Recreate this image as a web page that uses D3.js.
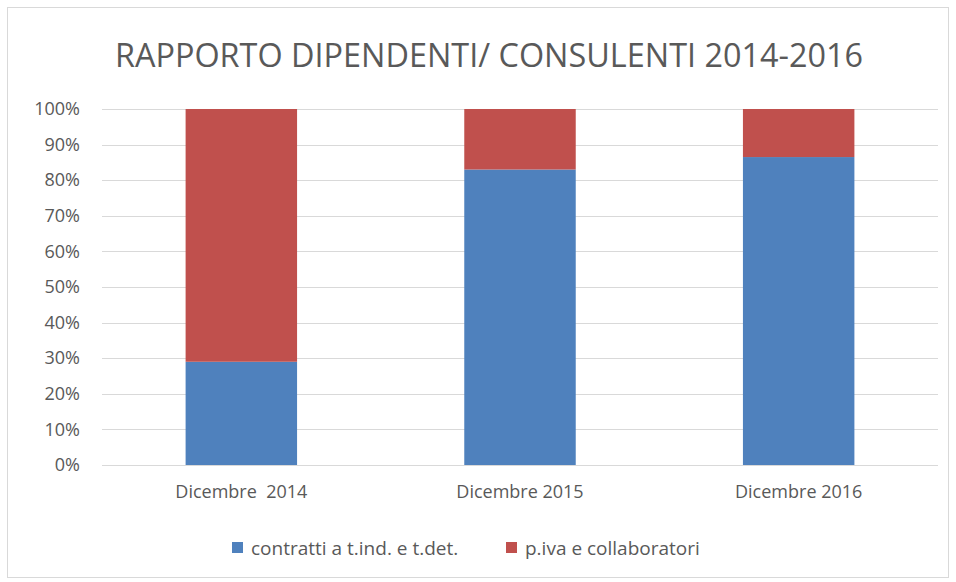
<!DOCTYPE html>
<html>
<head>
<meta charset="utf-8">
<script src="https://cdn.jsdelivr.net/npm/d3@7"></script>
<style>
  body { margin: 0; background: #fff; }
  text { font-family: "Open Sans", "Noto Sans", sans-serif; }
</style>
</head>
<body>
<div id="chart"></div>
<script>
const categories = ["Dicembre  2014", "Dicembre 2015", "Dicembre 2016"];
const dipendenti = [0.29, 0.83, 0.865];
const consulenti = [0.71, 0.17, 0.135];
const seriesNames = ["contratti a t.ind. e t.det.", "p.iva e collaboratori"];
const seriesColors = ["#4f81bd", "#c0504d"];
const yTicks = [0, 0.1, 0.2, 0.3, 0.4, 0.5, 0.6, 0.7, 0.8, 0.9, 1];
const title = "RAPPORTO DIPENDENTI/ CONSULENTI 2014-2016";

var width = 956, height = 582,
    margin = { top: 109, right: 18, bottom: 117, left: 102 },
    innerWidth = width - margin.left - margin.right,
    innerHeight = height - margin.top - margin.bottom;

var svg = d3.select("#chart").append("svg")
    .attr("width", width)
    .attr("height", height);

// outer frame
svg.append("rect")
    .attr("x", 7.5).attr("y", 7.5)
    .attr("width", width - 15).attr("height", height - 12)
    .attr("fill", "none")
    .attr("stroke", "#d9d9d9");

// title, squeezed to the narrow look of the original font
svg.append("text")
    .attr("x", 489).attr("y", 67)
    .attr("text-anchor", "middle")
    .style("font-size", "32px")
    .attr("fill", "#595959")
    .attr("textLength", 748)
    .attr("lengthAdjust", "spacingAndGlyphs")
    .text(title);

var g = svg.append("g")
    .attr("transform", "translate(" + margin.left + "," + margin.top + ")");

var xScale = d3.scaleBand()
    .domain(categories)
    .range([0, innerWidth])
    .paddingInner(0.6)
    .paddingOuter(0.3);

var yScale = d3.scaleLinear()
    .domain([0, 1])
    .range([innerHeight, 0]);

// gridlines
g.append("g").attr("class", "grid")
    .selectAll("line")
    .data(yTicks)
    .enter().append("line")
    .attr("x1", 0).attr("x2", innerWidth)
    .attr("y1", d => Math.round(yScale(d)) + 0.5)
    .attr("y2", d => Math.round(yScale(d)) + 0.5)
    .attr("stroke", "#d9d9d9");

// y axis
var yAxis = g.append("g")
    .call(d3.axisLeft(yScale).tickValues(yTicks).tickFormat(d3.format(".0%")).tickSize(0).tickPadding(22));
yAxis.select(".domain").remove();
yAxis.selectAll("text")
    .style("font-size", "18px")
    .attr("fill", "#595959");

// x axis
var xAxis = g.append("g")
    .attr("transform", "translate(0," + innerHeight + ")")
    .call(d3.axisBottom(xScale).tickSize(0).tickPadding(20));
xAxis.select(".domain").remove();
xAxis.selectAll("text")
    .style("font-size", "18px")
    .style("white-space", "pre")
    .attr("fill", "#595959");

// stacked bars
var rows = categories.map((c, i) => ({ cat: c, a: dipendenti[i], b: consulenti[i] }));
var stack = d3.stack().keys(["a", "b"])(rows);

g.selectAll(".series")
    .data(stack)
    .enter().append("g")
    .attr("class", "series")
    .attr("fill", (d, i) => seriesColors[i])
    .selectAll("rect")
    .data(d => d)
    .enter().append("rect")
    .attr("x", d => xScale(d.data.cat))
    .attr("width", xScale.bandwidth())
    .attr("y", d => yScale(d[1]))
    .attr("height", d => yScale(d[0]) - yScale(d[1]));

// legend
var legendX = [232, 506];
var legend = svg.append("g").selectAll("g")
    .data(seriesNames)
    .enter().append("g")
    .attr("transform", (d, i) => "translate(" + legendX[i] + ",555)");
legend.append("rect")
    .attr("x", 0).attr("y", -13)
    .attr("width", 11).attr("height", 11)
    .attr("fill", (d, i) => seriesColors[i]);
legend.append("text")
    .attr("x", 19).attr("y", 0)
    .style("font-size", "19px")
    .attr("fill", "#595959")
    .text(d => d);
</script>
</body>
</html>
